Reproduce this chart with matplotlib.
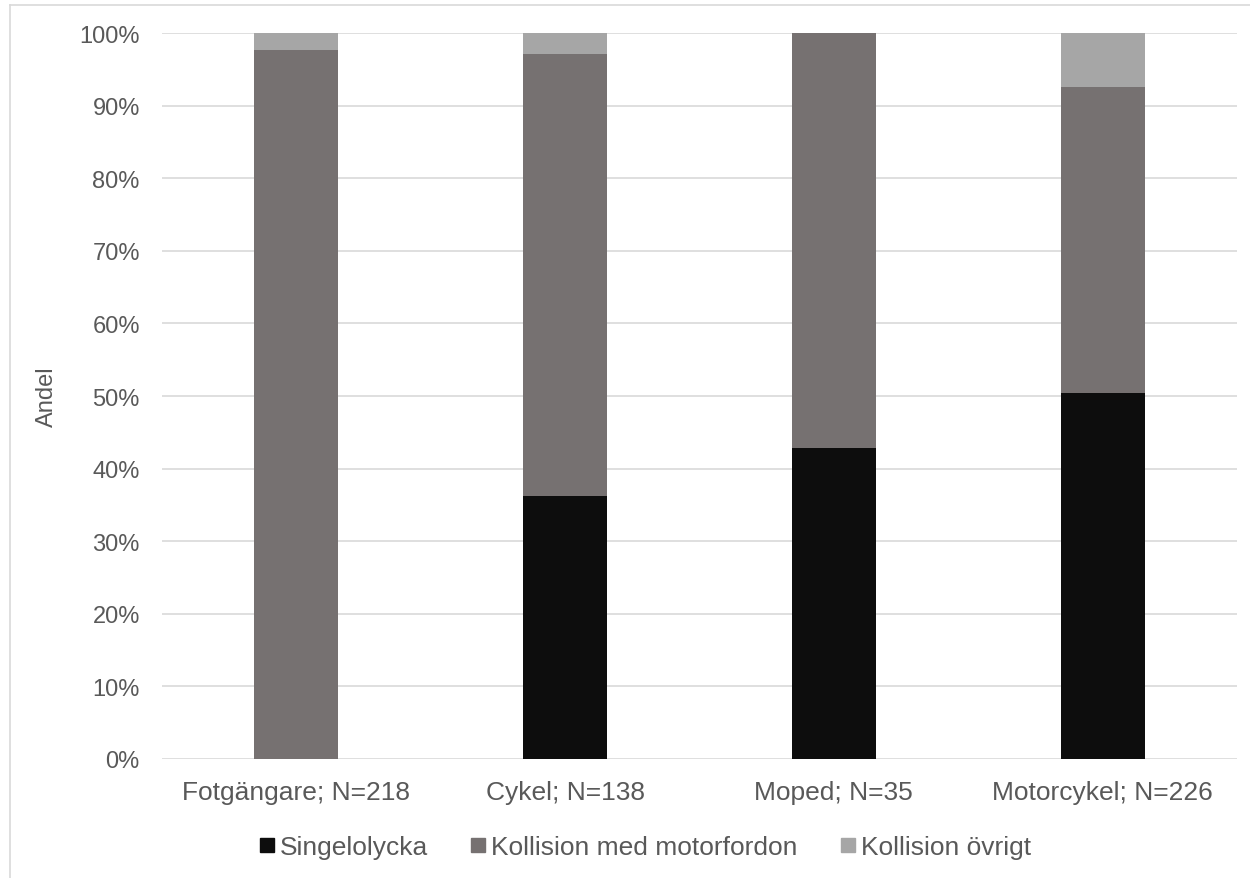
import matplotlib.pyplot as plt
import numpy as np
from matplotlib.lines import Line2D

plt.rcParams['font.family'] = ['Liberation Sans', 'DejaVu Sans']

categories = ['Fotgängare; N=218', 'Cykel; N=138', 'Moped; N=35', 'Motorcykel; N=226']
series = ['Singelolycka', 'Kollision med motorfordon', 'Kollision övrigt']
singel = [0.0, 36.2, 42.9, 50.4]
motorfordon = [97.7, 60.9, 57.1, 42.1]
ovrigt = [2.3, 2.9, 0.0, 7.5]
colors = ['#0d0d0d', '#767171', '#a6a6a6']
text_col = '#595959'

fig = plt.figure(figsize=(12.5, 8.79), dpi=100)
ax = fig.add_axes([0.1296, 0.1354, 0.86, 0.8259])

x = np.arange(len(categories))
w = 0.312
bottom = np.zeros(len(categories))
for vals, name, c in zip([singel, motorfordon, ovrigt], series, colors):
    vals = np.array(vals)
    ax.bar(x, vals, w, bottom=bottom, color=c, label=name, zorder=3)
    bottom += vals

ax.set_xlim(-0.5, 3.5)
ax.set_ylim(0, 100)
ax.set_yticks(np.arange(0, 101, 10))
ax.set_yticklabels([f'{v}%' for v in range(0, 101, 10)])
ax.set_xticks(x)
ax.set_xticklabels(categories)
ax.yaxis.grid(True, color='#d9d9d9', linewidth=1.2, zorder=0)
ax.set_axisbelow(True)
for s in ax.spines.values():
    s.set_visible(False)
ax.tick_params(axis='both', length=0, labelcolor=text_col)
ax.tick_params(axis='y', pad=16, labelsize=17)
ax.tick_params(axis='x', pad=15, labelsize=19)
ax.set_ylabel('Andel', fontsize=17, color=text_col)
ax.yaxis.set_label_coords(-0.097, 0.5)

handles = [Line2D([], [], marker='s', linestyle='', markersize=9.5,
                  markerfacecolor=c, markeredgecolor=c) for c in colors]
fig.legend(handles, series, loc='center', bbox_to_anchor=(0.516, 1 - 848 / 879),
           ncol=3, frameon=False, fontsize=19, labelcolor=text_col,
           handlelength=0.6, handletextpad=0.2, columnspacing=1.6)

# outer chart border (top and left visible)
fig.add_artist(Line2D([0.008, 0.008], [0, 0.993], color='#d9d9d9', linewidth=1.2,
                      transform=fig.transFigure))
fig.add_artist(Line2D([0.008, 1], [0.993, 0.993], color='#d9d9d9', linewidth=1.2,
                      transform=fig.transFigure))

fig.savefig('out.png', dpi=100)
